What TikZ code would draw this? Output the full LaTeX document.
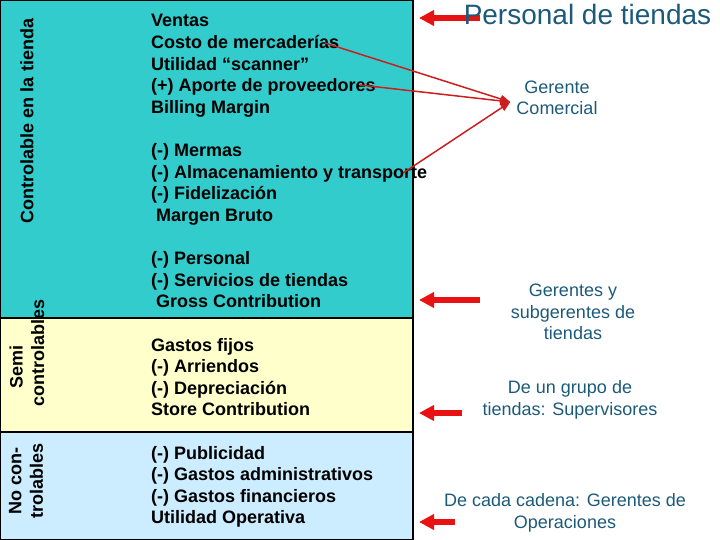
\documentclass[tikz,border=0pt]{standalone}
\usepackage{fontspec}
\setmainfont{Liberation Sans}
\usetikzlibrary{arrows.meta,positioning}

\definecolor{tealband}{RGB}{51,204,204}
\definecolor{yellowband}{RGB}{255,255,204}
\definecolor{blueband}{RGB}{204,236,255}
\definecolor{roletext}{RGB}{28,90,122}
\definecolor{arrowred}{RGB}{232,18,18}
\definecolor{linkred}{RGB}{204,30,30}

\begin{document}
\begin{tikzpicture}[x=1pt, y=-1pt,
  items/.style={anchor=base west, align=left, inner sep=0pt, font=\fontsize{18}{21.6}\selectfont\bfseries},
  bandlabel/.style={rotate=90, align=center, inner sep=0pt, font=\fontsize{18}{21.6}\selectfont\bfseries},
  role/.style={align=center, inner sep=0pt, text=roletext, font=\fontsize{18}{21.6}\selectfont},
  bigarrow/.style={draw=arrowred, line width=6pt, -{Triangle[length=15pt,width=15pt]}},
  link/.style={draw=linkred, line width=1.5pt, -{Triangle[length=10pt,width=8pt]}}]

  \useasboundingbox (0,0) rectangle (720,540);

  % bands
  \fill[tealband] (0,0) rectangle (413,318);
  \fill[yellowband] (0,318) rectangle (413,432);
  \fill[blueband] (0,432) rectangle (413,540);
  \draw[line width=1.2pt] (0,318) -- (413,318) (0,432) -- (413,432);
  \draw[line width=1.5pt] (0,0) rectangle (413,540);

  \node [bandlabel] (ctrl) at (27,121) {Controlable en la tienda};
  \node [bandlabel] (semi) at (27,353) {Semi\kern28pt\\controlables};
  \node [bandlabel] (noctrl) at (26,481) {No con-\\trolables};

  % cost items (anchored at the baseline of the last line)
  \node [items] (billing) at (151,113.4) {Ventas\\Costo de mercaderías\\Utilidad “scanner”\\(+) Aporte de proveedores\\Billing Margin};
  \node [items] (margen) at (151,221.4) {(-) Mermas\\(-) Almacenamiento y transporte\\(-) Fidelización\\\hspace*{5pt}Margen Bruto};
  \node [items] (gross) at (151,307.8) {(-) Personal\\(-) Servicios de tiendas\\\hspace*{5pt}Gross Contribution};
  \node [items] (store) at (151,415.8) {Gastos fijos\\(-) Arriendos\\(-) Depreciación\\Store Contribution};
  \node [items] (operativa) at (151,523.8) {(-) Publicidad\\(-) Gastos administrativos\\(-) Gastos financieros\\Utilidad Operativa};

  % responsibles
  \coordinate (p1) at (480,18);
  \coordinate (p2) at (480,300);
  \coordinate (p3) at (462,413);
  \coordinate (p4) at (455,522);
  \coordinate (t1) at (419,18);
  \coordinate (t2) at (419,300);
  \coordinate (t3) at (419,413);
  \coordinate (t4) at (419,522);
  \draw [bigarrow] (p1) -- (t1);
  \draw [bigarrow] (p2) -- (t2);
  \draw [bigarrow] (p3) -- (t3);
  \draw [bigarrow] (p4) -- (t4);

  \node [role, anchor=base, font=\fontsize{28}{33}\selectfont] (personal) at (587.5,25) {Personal de tiendas};
  \node [role] (gerente) at (557,98) {Gerente\\Comercial};
  \node [role] (subgerentes) at (573,312) {Gerentes y\\subgerentes de\\tiendas};
  \node [role] (supervisores) at (570,400) {De un grupo de\\tiendas: Supervisores};
  \node [role] (operaciones) at (565,513) {De cada cadena: Gerentes de\\Operaciones};

  \coordinate (c1) at (325,43);
  \coordinate (c2) at (360,85);
  \coordinate (c3) at (403,173);
  \draw [link] (c1) -- ([shift={(-6,4)}]gerente.west);
  \draw [link] (c2) -- ([shift={(-6,4)}]gerente.west);
  \draw [link] (c3) -- ([shift={(-6,4)}]gerente.west);
\end{tikzpicture}
\end{document}
